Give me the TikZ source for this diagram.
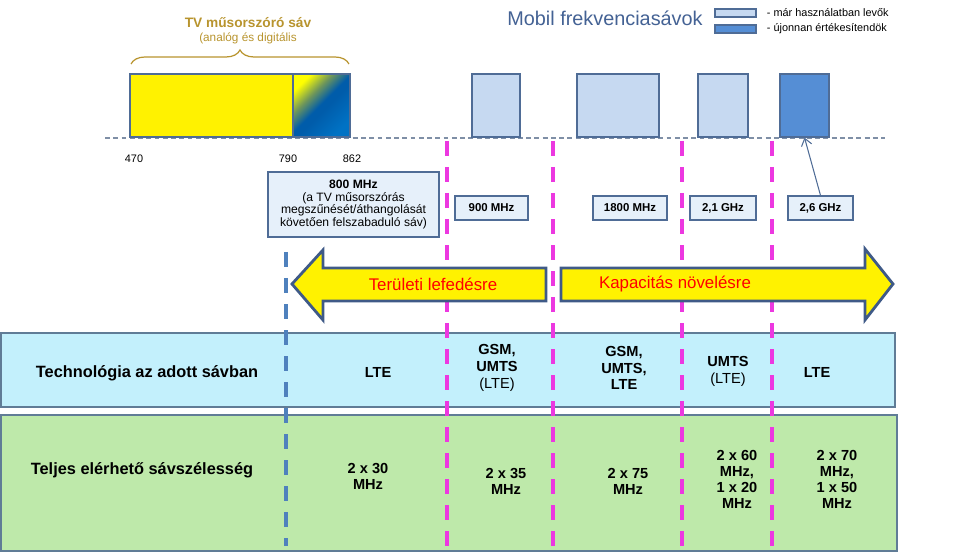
\documentclass[tikz,border=0pt]{standalone}
\usepackage{fontspec}
\setmainfont{Liberation Sans}
\usetikzlibrary{arrows.meta,positioning,decorations.pathreplacing}
\definecolor{tvgold}{RGB}{184,148,46}
\definecolor{bandlight}{RGB}{198,217,241}
\definecolor{banddark}{RGB}{85,142,213}
\definecolor{bandedge}{RGB}{79,108,150}
\definecolor{lblfill}{RGB}{230,240,250}
\definecolor{techfill}{RGB}{195,240,252}
\definecolor{bwfill}{RGB}{190,233,170}
\definecolor{rowedge}{RGB}{96,124,150}
\definecolor{sepmag}{RGB}{236,56,224}
\definecolor{sepblue}{RGB}{79,129,189}
\definecolor{titleblue}{RGB}{68,98,148}
\definecolor{arrowedge}{RGB}{63,90,135}
\definecolor{basegray}{RGB}{127,143,166}
\definecolor{tvblue}{RGB}{0,92,170}
\definecolor{tvblueb}{RGB}{0,114,196}
\definecolor{tvmix}{RGB}{110,150,90}
\newcommand{\fsz}[2]{\fontsize{#1}{#2}\selectfont}
\pgfdeclareverticalshading{tvfade}{100bp}{color(0bp)=(tvblueb); color(25bp)=(tvblueb);
  color(46bp)=(tvblue); color(51bp)=(tvblue); color(62bp)=(tvmix); color(75bp)=(yellow);
  color(100bp)=(yellow)}

\begin{document}
\begin{tikzpicture}[
    x=0.02cm,y=-0.02cm,
    >=Latex,
    band/.style={draw=bandedge,line width=0.7pt,fill=bandlight,minimum height=1.26cm,inner sep=0pt},
    freqbox/.style={draw=bandedge,line width=0.7pt,fill=lblfill,minimum height=0.48cm,
                    inner sep=0pt,font=\fsz{6.5}{7.5}\bfseries},
    freqnum/.style={font=\fsz{6.2}{7}},
    rowbox/.style={draw=rowedge,line width=1pt},
    rowhead/.style={font=\fsz{9.3}{11}\bfseries},
    cell/.style={align=center,font=\fsz{8.3}{9.6}\bfseries},
    bwcell/.style={align=center,font=\fsz{8.3}{9.2}\bfseries},
    sep/.style={sepmag,line width=2.3pt,dash pattern=on 8.8pt off 6pt},
    bigarrow/.style={draw=arrowedge,line width=1.6pt,fill=yellow,line join=miter},
    arrowtxt/.style={text=red,font=\fsz{9.6}{11}},
    legtxt/.style={inner sep=0pt,font=\fsz{6.2}{7}},
]
\useasboundingbox (0,0) rectangle (975,553);

% ---- table rows ----
\draw[rowbox,fill=techfill] (1,333) rectangle (895,407);
\draw[rowbox,fill=bwfill] (1,415) rectangle (897,551);
\node[rowhead] (techhd) at (147,373) {Technológia az adott sávban};
\node[rowhead] (bwhd) at (142,470) {Teljes elérhető sávszélesség};

% technology per band
\node[cell] (t800) at (378,372) {LTE};
\node[cell] (t900) at (497,368) {GSM,\\UMTS\\{\mdseries (LTE)}};
\node[cell] (t1800) at (624,368) {GSM,\\UMTS,\\LTE};
\node[cell] (t21) at (728,371) {UMTS\\{\mdseries (LTE)}};
\node[cell] (t26) at (817,372) {LTE};

% bandwidth per band
\node[bwcell] (w800) at (368,476.5) {2 x 30\\MHz};
\node[bwcell] (w900) at (506,481.5) {2 x 35\\MHz};
\node[bwcell] (w1800) at (628,481.5) {2 x 75\\MHz};
\node[bwcell] (w21) at (737,479.5) {2 x 60\\MHz,\\1 x 20\\MHz};
\node[bwcell] (w26) at (837,479.5) {2 x 70\\MHz,\\1 x 50\\MHz};

% ---- band separators ----
\draw[sep,sepblue] (286,252) -- (286,546);
\foreach \x in {447,553,682,772}
  \draw[sep] (\x,141) -- (\x,548);

% ---- frequency axis ----
\draw[basegray,line width=1.1pt,dash pattern=on 2.8pt off 1.9pt] (105,138) -- (885,138);

% TV broadcast band
\node[band,fill=yellow,minimum width=3.26cm] (tv) at (211.5,105.5) {};
\node[band,minimum width=1.14cm,shading=tvfade,shading angle=45] (tvd) at (321.5,105.5) {};
\draw[tvgold,line width=0.7pt,decorate,decoration={brace,amplitude=0.28cm}] (131,64) -- (349,64);
\node[font=\fsz{7.8}{9}\bfseries,text=tvgold] (tvtitle) at (248,23) {TV műsorszóró sáv};
\node[font=\fsz{6.7}{8},text=tvgold] (tvsub) at (248,38) {(analóg és digitális};
\node[freqnum] (n470) at (134,159) {470};
\node[freqnum] (n790) at (288,159) {790};
\node[freqnum] (n862) at (352,159) {862};

% mobile bands
\node[band,minimum width=0.96cm] (b900) at (496,105.5) {};
\node[band,minimum width=1.64cm] (b1800) at (618,105.5) {};
\node[band,minimum width=1.0cm] (b21) at (723,105.5) {};
\node[band,fill=banddark,minimum width=0.98cm] (b26) at (804.5,105.5) {};

% legend
\node[font=\fsz{11.3}{13},text=titleblue,anchor=west,inner sep=0pt] (mobtitle) at (507,18) {Mobil frekvenciasávok};
\node[band,minimum width=0.82cm,minimum height=0.16cm] (legold) at (735.5,13) {};
\node[band,fill=banddark,minimum width=0.82cm,minimum height=0.16cm] (legnew) at (735.5,29) {};
\node[legtxt,right=0.2cm of legold] (legoldtxt) {- már használatban levők};
\node[legtxt,right=0.2cm of legnew] (legnewtxt) {- újonnan értékesítendök};

% ---- band labels ----
\node[freqbox,minimum width=3.42cm,minimum height=1.3cm,align=center,font=\fsz{6.9}{7.3}]
  (f800) at (353.5,204.5) {\textbf{800 MHz}\\(a TV műsorszórás\\megszűnését/áthangolását\\követően felszabaduló sáv)};
\node[freqbox,minimum width=1.46cm] (f900) at (491.5,208) {900 MHz};
\node[freqbox,minimum width=1.48cm] (f1800) at (630,208) {1800 MHz};
\node[freqbox,minimum width=1.32cm] (f21) at (723,208) {2,1 GHz};
\node[freqbox,minimum width=1.3cm] (f26) at (820.5,208) {2,6 GHz};
\draw[-{Straight Barb[length=4pt,width=6pt]},bandedge,line width=0.6pt] (f26.north) -- (b26.south);

% ---- coverage / capacity arrows ----
\draw[bigarrow] (292,284) -- (323,250) -- (323,268) -- (546,268) -- (546,301)
  -- (323,301) -- (323,320) -- cycle;
\node[arrowtxt] (cover) at (433,284) {Területi lefedésre};
\draw[bigarrow] (561,268) -- (865,268) -- (865,249) -- (893,284) -- (865,320)
  -- (865,301) -- (561,301) -- cycle;
\node[arrowtxt] (capac) at (675,284) {Kapacitás növelésre};

\end{tikzpicture}
\end{document}
